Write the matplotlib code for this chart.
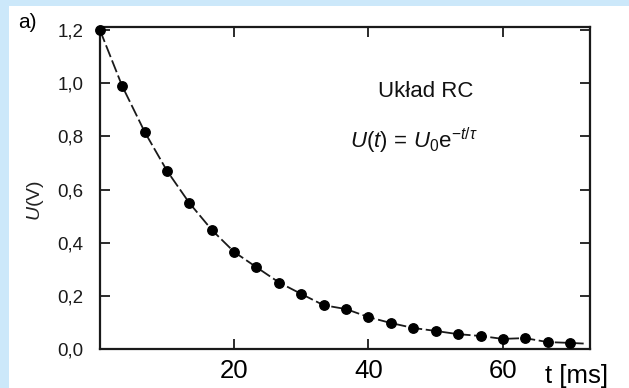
import matplotlib
matplotlib.use("Agg")
import matplotlib.pyplot as plt
from matplotlib.patches import Rectangle

# ---- data ----
t_ms = [0, 3.3, 6.7, 10, 13.3, 16.7, 20, 23.3, 26.7, 30, 33.3, 36.7,
        40, 43.3, 46.7, 50, 53.3, 56.7, 60, 63.3, 66.7, 70]
U_V = [1.2, 0.99, 0.815, 0.67, 0.55, 0.447, 0.365, 0.308, 0.25, 0.207, 0.165, 0.15,
       0.12, 0.098, 0.079, 0.068, 0.056, 0.049, 0.038, 0.041, 0.026, 0.023]
# dashed curve runs slightly past the last point
t_curve = t_ms + [72.5]
U_curve = U_V + [0.02]

x_ticks = [20, 40, 60]
x_ticklabels = ["20", "40", "60"]
y_ticks = [0.0, 0.2, 0.4, 0.6, 0.8, 1.0, 1.2]
y_ticklabels = ["0,0", "0,2", "0,4", "0,6", "0,8", "1,0", "1,2"]

plt.rcParams['font.family'] = ['Liberation Sans', 'DejaVu Sans']
plt.rcParams['mathtext.fontset'] = 'custom'
plt.rcParams['mathtext.rm'] = 'Liberation Sans'
plt.rcParams['mathtext.it'] = 'Liberation Sans:italic'
plt.rcParams['mathtext.bf'] = 'Liberation Sans:bold'

W, H = 629, 388
fig = plt.figure(figsize=(W / 100, H / 100), dpi=100)
fig.patch.set_facecolor('#cce8fa')
bg = Rectangle((9 / W, 0), 1 - 9 / W, (H - 6) / H,
               transform=fig.transFigure, facecolor='white',
               edgecolor='none', zorder=-10)
fig.patches.append(bg)

ax = fig.add_axes([100 / W, (H - 349) / H, (590 - 100) / W, (349 - 27) / H])
ax.set_zorder(5)
ax.set_facecolor('none')
ink = '#1a1a1a'

ax.plot(t_curve, U_curve, color=ink, lw=1.3, dashes=(7, 2), zorder=2, clip_on=False)
ax.plot(t_ms, U_V, linestyle='none', marker='o', color='black', markersize=6.8,
        zorder=3, clip_on=False)

ax.set_xlim(0, 73)
ax.set_ylim(0, 1.212)

ax.set_xticks(x_ticks)
ax.set_xticklabels(x_ticklabels)
ax.set_yticks(y_ticks)
ax.set_yticklabels(y_ticklabels)

for s in ax.spines.values():
    s.set_linewidth(1.6)
    s.set_color(ink)

ax.tick_params(axis='both', direction='in', length=7, width=1.3, color=ink,
               top=True, right=True)
ax.tick_params(axis='x', labelsize=18.5, pad=7, labelcolor='black')
ax.tick_params(axis='y', labelsize=13.5, pad=12, labelcolor='#1a1a1a')

fig.text(18 / W, (H - 28) / H, 'a)', fontsize=15, va='baseline', ha='left', zorder=6)
fig.text(36 / W, (H - 201) / H, r'$U$(V)', fontsize=14, rotation=90,
         va='center', ha='center', color='#222222', zorder=6)
fig.text(545 / W, (H - 383) / H, 't [ms]', fontsize=18.5, va='baseline', ha='left',
         zorder=6)

fig.text(378 / W, (H - 97) / H, 'Układ RC', fontsize=16, va='baseline', ha='left',
         color='#111111', zorder=6)
fig.text(350 / W, (H - 148) / H, r'$U(t)\,=\,U_0\mathrm{e}^{-t/\tau}$', fontsize=16,
         va='baseline', ha='left', color='#111111', zorder=6)

fig.savefig('out.png', dpi=100, facecolor=fig.get_facecolor())
